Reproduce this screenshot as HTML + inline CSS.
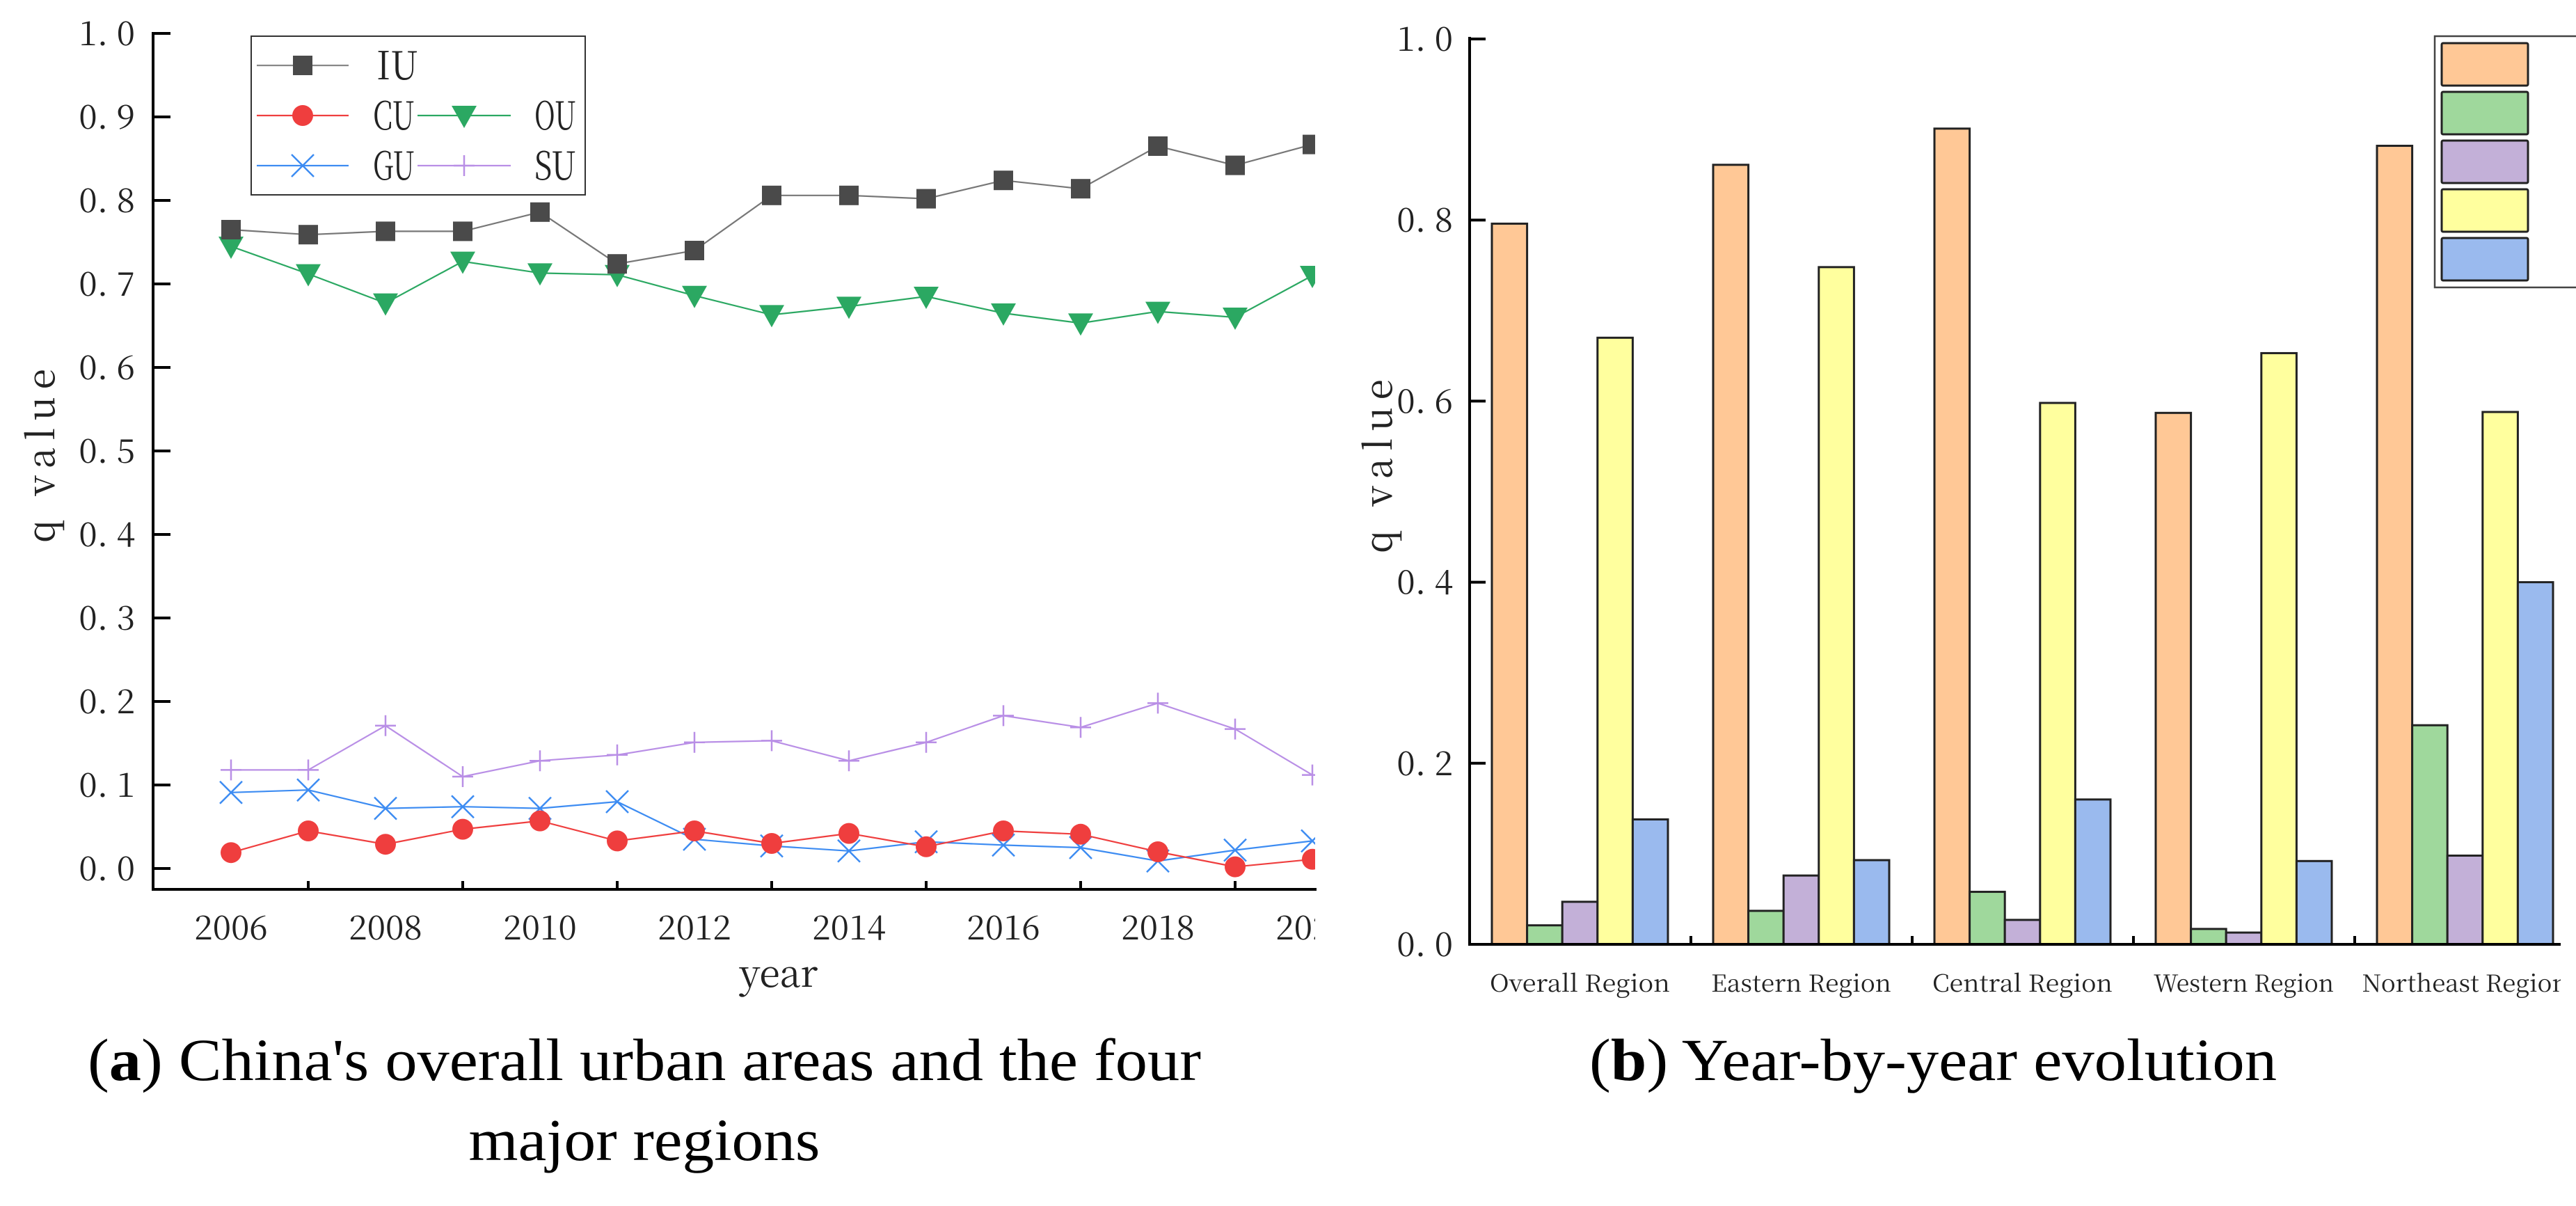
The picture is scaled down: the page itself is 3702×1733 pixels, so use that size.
<!DOCTYPE html>
<html><head><meta charset="utf-8"><style>
html,body{margin:0;padding:0;background:#fff;}
svg{display:block;}
.tk{font-family:"Noto Serif CJK SC","Liberation Serif",serif;fill:#222;}
.cap{font-family:"Liberation Serif",serif;fill:#000;}
</style></head><body>
<svg id="fig" width="3702" height="1733" viewBox="0 0 3702 1733" xmlns="http://www.w3.org/2000/svg">
<defs>
<clipPath id="clipA"><rect x="0" y="0" width="1890" height="1733"/></clipPath>
<clipPath id="clipB"><rect x="1900" y="0" width="1780" height="1733"/></clipPath>
</defs>
<g id="chartA"></g>
<g id="chartB"></g>
<text class="cap" x="926" y="1552" font-size="86" text-anchor="middle" textLength="1600" lengthAdjust="spacingAndGlyphs">(<tspan font-weight="bold">a</tspan>) China's overall urban areas and the four</text>
<text class="cap" x="926" y="1667" font-size="86" text-anchor="middle" textLength="505" lengthAdjust="spacingAndGlyphs">major regions</text>
<text class="cap" x="2778" y="1552" font-size="86" text-anchor="middle" textLength="988" lengthAdjust="spacingAndGlyphs">(<tspan font-weight="bold">b</tspan>) Year-by-year evolution</text>
</svg>
<script>
// ---- Chart A data ----
const years = [2006,2007,2008,2009,2010,2011,2012,2013,2014,2015,2016,2017,2018,2019,2020];
const iuValues = [0.765,0.759,0.763,0.763,0.786,0.724,0.740,0.806,0.806,0.802,0.824,0.814,0.865,0.842,0.867];
const ouValues = [0.745,0.712,0.677,0.727,0.713,0.711,0.686,0.663,0.673,0.685,0.665,0.653,0.667,0.660,0.710];
const suValues = [0.118,0.118,0.171,0.110,0.129,0.136,0.151,0.153,0.129,0.151,0.183,0.169,0.198,0.167,0.112];
const guValues = [0.091,0.094,0.072,0.074,0.072,0.080,0.035,0.027,0.021,0.032,0.028,0.025,0.009,0.022,0.033];
const cuValues = [0.019,0.045,0.029,0.047,0.057,0.033,0.045,0.030,0.042,0.026,0.045,0.041,0.020,0.002,0.011];
const yTicksA = ["0. 0","0. 1","0. 2","0. 3","0. 4","0. 5","0. 6","0. 7","0. 8","0. 9","1. 0"];
const xLabelYearsA = [2006,2008,2010,2012,2014,2016,2018,2020];
// ---- Chart B data ----
const regions = ["Overall Region","Eastern Region","Central Region","Western Region","Northeast Region"];
const s1Values = [0.796,0.861,0.901,0.587,0.882];
const s2Values = [0.021,0.037,0.058,0.017,0.242];
const s3Values = [0.047,0.076,0.027,0.013,0.098];
const s4Values = [0.670,0.748,0.598,0.653,0.588];
const s5Values = [0.138,0.093,0.160,0.092,0.400];
const yTicksB = ["0. 0","0. 2","0. 4","0. 6","0. 8","1. 0"];

const NS="http://www.w3.org/2000/svg";
function mk(tag,attrs,parent){const e=document.createElementNS(NS,tag);for(const k in attrs)e.setAttribute(k,attrs[k]);parent.appendChild(e);return e;}

// ===== Chart A =====
const A=document.getElementById('chartA');
const ax0=220, ay0=1248, ayScale=1200;
const xA=y=>332+(y-2006)*111;
const yA=v=>ay0-v*ayScale;
let e;
e=mk('line',{x1:ax0,y1:46,x2:ax0,y2:1280,stroke:'#000','stroke-width':4},A);


e=mk('line',{x1:ax0-2,y1:1278,x2:1892,y2:1278,stroke:'#000','stroke-width':4},A);


yTicksA.forEach((t,i)=>{
  const v=i/10;
  const l=mk('line',{x1:ax0,y1:yA(v),x2:ax0+25,y2:yA(v),stroke:'#000','stroke-width':4},A);
  
  
  const tx=mk('text',{x:194,y:yA(v)+17,'font-size':48,'text-anchor':'end',class:'tk'},A);
  tx.textContent=t;
  
  
});
years.forEach(y=>{
  if(y%2===1){
    const l=mk('line',{x1:xA(y),y1:1278,x2:xA(y),y2:1266,stroke:'#000','stroke-width':4},A);
    
    
  }
});
const gA=mk('g',{'clip-path':'url(#clipA)'},A);
xLabelYearsA.forEach(y=>{
  const tx=mk('text',{x:xA(y),y:1350,'font-size':48,'text-anchor':'middle',class:'tk'},gA);
  tx.textContent=String(y);
  
  
});
e=mk('text',{x:1119,y:1418,'font-size':54,'text-anchor':'middle',class:'tk'},A);
e.textContent='year';


e=mk('text',{x:0,y:0,'font-size':54,'text-anchor':'middle',class:'tk',transform:'translate(78,655) rotate(-90)',textLength:250,lengthAdjust:'spacing'},A);
e.textContent='q value';



function marker(type,x,y,color,g){
  let m;
  if(type==='sq') m=mk('rect',{x:x-14,y:y-14,width:28,height:28,fill:'#4a4a4a'},g);
  else if(type==='ci') m=mk('circle',{cx:x,cy:y,r:15,fill:'#ef3e3e'},g);
  else if(type==='tri') m=mk('polygon',{points:`${x-18},${y-14} ${x+18},${y-14} ${x},${y+18}`,fill:'#2ba862'},g);
  else if(type==='x'){m=mk('path',{d:`M${x-16},${y-16}L${x+16},${y+16}M${x+16},${y-16}L${x-16},${y+16}`,stroke:color,'stroke-width':2.5,fill:'none'},g);}
  else if(type==='plus'){m=mk('path',{d:`M${x-15},${y}L${x+15},${y}M${x},${y-15}L${x},${y+15}`,stroke:color,'stroke-width':2.5,fill:'none'},g);}
  return m;
}
const seriesA=[
  {name:'su',vals:suValues,line:'#b98fe6',mk:'plus',col:'#b98fe6'},
  {name:'gu',vals:guValues,line:'#3d8cf2',mk:'x',col:'#3d8cf2'},
  {name:'cu',vals:cuValues,line:'#ef3e3e',mk:'ci',col:'#ef3e3e'},
  {name:'ou',vals:ouValues,line:'#2ba862',mk:'tri',col:'#2ba862'},
  {name:'iu',vals:iuValues,line:'#777',mk:'sq',col:'#4a4a4a'}
];
seriesA.forEach(s=>{
  const g=mk('g',{},gA);
  
  
  const pts=s.vals.map((v,i)=>xA(years[i])+','+yA(v)).join(' ');
  const pl=mk('polyline',{points:pts,fill:'none',stroke:s.line,'stroke-width':2.2},g);
  
  
  s.vals.forEach((v,i)=>{
    const m=marker(s.mk,xA(years[i]),yA(v),s.col,g);
    
    
  });
});
const LA=mk('g',{},A);


mk('rect',{x:361,y:52,width:480,height:228,fill:'#fff',stroke:'#333','stroke-width':2},LA);
const legA=[
  {lab:'IU',x1:369,x2:501,y:94,mk:'sq',line:'#888',col:'#4a4a4a',tx:541},
  {lab:'CU',x1:369,x2:501,y:166,mk:'ci',line:'#ef3e3e',col:'#ef3e3e',tx:536},
  {lab:'GU',x1:369,x2:501,y:238,mk:'x',line:'#3d8cf2',col:'#3d8cf2',tx:536},
  {lab:'OU',x1:600,x2:734,y:166,mk:'tri',line:'#2ba862',col:'#2ba862',tx:768},
  {lab:'SU',x1:600,x2:734,y:238,mk:'plus',line:'#b98fe6',col:'#b98fe6',tx:768}
];
legA.forEach(l=>{
  const g=mk('g',{},LA);
  
  
  mk('line',{x1:l.x1,y1:l.y,x2:l.x2,y2:l.y,stroke:l.line,'stroke-width':2.2},g);
  marker(l.mk,(l.x1+l.x2)/2,l.y,l.col,g);
  const t=mk('text',{x:l.tx,y:l.y+20,'font-size':56,class:'tk',textLength:60,lengthAdjust:'spacingAndGlyphs'},g);
  t.textContent=l.lab;
});

// ===== Chart B =====
const B=document.getElementById('chartB');
const bx0=2112, by0=1357, byScale=1301;
const yB=v=>by0-v*byScale;
const groupStart=i=>2144+i*318;
const barW=50.6;
const colors=['#ffc896','#9fd89c','#c3b0d8','#ffff9e','#9abaee'];
const seriesB=[s1Values,s2Values,s3Values,s4Values,s5Values];
const gB=mk('g',{'clip-path':'url(#clipB)'},B);
seriesB.forEach((vals,si)=>{
  vals.forEach((v,i)=>{
    const x=groupStart(i)+si*barW;
    const r=mk('rect',{x:x,y:yB(v),width:barW,height:by0-yB(v),fill:colors[si],stroke:'#222','stroke-width':3},gB);
    
    
  });
});
regions.forEach((r,i)=>{
  const cx=groupStart(i)+2.5*barW;
  const t=mk('text',{x:cx,y:1425,'font-size':34,'text-anchor':'middle',class:'tk',textLength:r.length*18.5,lengthAdjust:'spacingAndGlyphs'},gB);
  t.textContent=r;
  
  
  if(i>0){
    const l=mk('line',{x1:groupStart(i)-32,y1:by0,x2:groupStart(i)-32,y2:by0-12,stroke:'#000','stroke-width':4},B);
    
    
  }
});
e=mk('line',{x1:bx0,y1:53,x2:bx0,y2:by0+2,stroke:'#000','stroke-width':4},B);


e=mk('line',{x1:bx0-2,y1:by0,x2:3680,y2:by0,stroke:'#000','stroke-width':4},B);


yTicksB.forEach((t,i)=>{
  const v=i*0.2;
  const l=mk('line',{x1:bx0,y1:yB(v),x2:bx0+23,y2:yB(v),stroke:'#000','stroke-width':4},B);
  
  
  const tx=mk('text',{x:2088,y:yB(v)+17,'font-size':48,'text-anchor':'end',class:'tk'},B);
  tx.textContent=t;
  
  
});
e=mk('text',{x:0,y:0,'font-size':54,'text-anchor':'middle',class:'tk',transform:'translate(2000,670) rotate(-90)',textLength:250,lengthAdjust:'spacing'},B);
e.textContent='q value';


const LB=mk('g',{},B);


mk('rect',{x:3499,y:52,width:220,height:361,fill:'#fff',stroke:'#444','stroke-width':2.5},LB);
colors.forEach((c,i)=>{
  const r=mk('rect',{x:3509,y:62+i*70,width:124,height:61,fill:c,stroke:'#222','stroke-width':3,rx:2},LB);
  
  
});
</script>
</body></html>
